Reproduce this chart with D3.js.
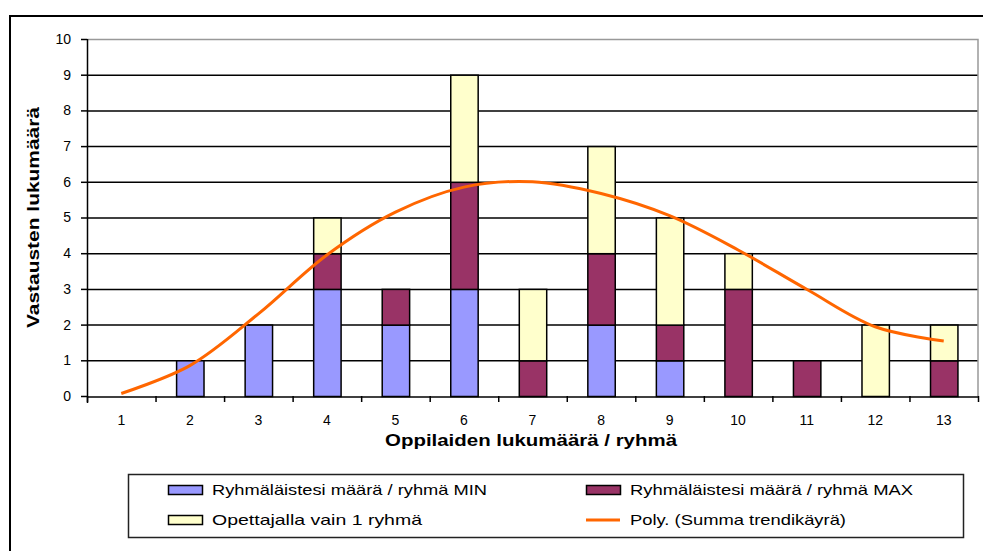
<!DOCTYPE html>
<html>
<head>
<meta charset="utf-8">
<script src="https://cdn.jsdelivr.net/npm/d3@7"></script>
<style>
  body { margin: 0; background: #fff; }
  svg { display: block; font-family: "Liberation Sans", Arial, sans-serif; }
</style>
</head>
<body>
<svg></svg>
<script>
const categories = ["1", "2", "3", "4", "5", "6", "7", "8", "9", "10", "11", "12", "13"];
const minValues = [0, 1, 2, 3, 2, 3, 0, 2, 1, 0, 0, 0, 0];
const maxValues = [0, 0, 0, 1, 1, 3, 1, 2, 1, 3, 1, 0, 1];
const oneGroupValues = [0, 0, 0, 1, 0, 3, 2, 3, 3, 1, 0, 2, 1];
const trendValues = [0.07, 0.85, 2.3, 3.95, 5.15, 5.85, 6.0, 5.67, 5.05, 4.09, 2.99, 1.94, 1.54];
const yTicks = [0, 1, 2, 3, 4, 5, 6, 7, 8, 9, 10];

const seriesNames = ["Ryhmäläistesi määrä / ryhmä MIN", "Ryhmäläistesi määrä / ryhmä MAX", "Opettajalla vain 1 ryhmä"];
const trendName = "Poly. (Summa trendikäyrä)";
const seriesColors = ["#9999FF", "#993366", "#FFFFCC"];
const trendColor = "#FF6600";

const width = 983, height = 551;
const plot = { left: 87, right: 978, top: 39, bottom: 396 };

const svg = d3.select("svg").attr("width", width).attr("height", height);

// outer chart frame
svg.append("path")
  .attr("d", `M10,${height + 2} L10,16 L${width + 2},16`)
  .attr("fill", "none").attr("stroke", "#000").attr("stroke-width", 2);

const x = d3.scaleBand().domain(categories).range([plot.left, plot.right]).paddingInner(0.6).paddingOuter(0.3);
const xOuter = d3.scaleBand().domain(categories).range([plot.left, plot.right]);
const y = d3.scaleLinear().domain([0, 10]).range([plot.bottom, plot.top]);

// gridlines
svg.append("g").selectAll("line")
  .data(yTicks.filter(t => t > 0 && t < 10))
  .join("line")
  .attr("x1", plot.left).attr("x2", plot.right)
  .attr("y1", d => y(d) + 0.5).attr("y2", d => y(d) + 0.5)
  .attr("stroke", "#000").attr("stroke-width", 1.5);

// plot border top/right (gray)
svg.append("path")
  .attr("d", `M${plot.left},${y(10) + 0.5} L${plot.right},${y(10) + 0.5} L${plot.right},${plot.bottom}`)
  .attr("fill", "none").attr("stroke", "#999").attr("stroke-width", 1.5);

// stacked bars
const rows = categories.map((c, i) => ({ cat: c, min: minValues[i], max: maxValues[i], one: oneGroupValues[i] }));
const stack = d3.stack().keys(["min", "max", "one"]);
const layers = stack(rows);

svg.append("g").selectAll("g")
  .data(layers)
  .join("g")
  .attr("fill", (d, i) => seriesColors[i])
  .selectAll("rect")
  .data(d => d)
  .join("rect")
  .attr("x", d => x(d.data.cat) + 0.5)
  .attr("y", d => y(d[1]) + 0.5)
  .attr("width", x.bandwidth())
  .attr("height", d => y(d[0]) - y(d[1]))
  .attr("stroke", "#000").attr("stroke-width", 1.5)
  .attr("display", d => {
    const total = d.data.min + d.data.max + d.data.one;
    return total === 0 ? "none" : null;
  });

// trend line
const line = d3.line()
  .x((d, i) => xOuter(categories[i]) + xOuter.bandwidth() / 2)
  .y(d => y(d))
  .curve(d3.curveCatmullRom.alpha(0.5));

svg.append("path")
  .datum(trendValues)
  .attr("d", line)
  .attr("fill", "none")
  .attr("stroke", trendColor)
  .attr("stroke-width", 3);

// y axis
const yAxis = svg.append("g")
  .attr("transform", `translate(${plot.left},0)`)
  .call(d3.axisLeft(y).tickValues(yTicks).tickSize(6).tickPadding(10).tickFormat(d3.format("d")));
yAxis.select(".domain").attr("stroke-width", 1.5).attr("d", `M0.5,${plot.top}V${plot.bottom + 7}`);
yAxis.selectAll(".tick line").attr("stroke-width", 1.5);
yAxis.selectAll("text").attr("font-size", 14).attr("fill", "#000")
  .attr("font-family", "Liberation Sans, Arial, sans-serif");

// x axis
const xAxis = svg.append("g")
  .attr("transform", `translate(0,${plot.bottom + 0.5})`)
  .call(d3.axisBottom(xOuter).tickSize(0).tickPadding(19));
xAxis.select(".domain").attr("stroke-width", 1.5);
xAxis.selectAll("text").attr("font-size", 14).attr("fill", "#000")
  .attr("font-family", "Liberation Sans, Arial, sans-serif");

// x ticks between categories
svg.append("g").selectAll("line")
  .data(d3.range(categories.length + 1))
  .join("line")
  .attr("x1", i => plot.left + i * xOuter.step() + 0.5)
  .attr("x2", i => plot.left + i * xOuter.step() + 0.5)
  .attr("y1", plot.bottom).attr("y2", plot.bottom + 6)
  .attr("stroke", "#000").attr("stroke-width", 1.5);

// axis titles
svg.append("text")
  .attr("x", 385).attr("y", 446)
  .attr("font-size", 16).attr("font-weight", "bold")
  .attr("textLength", 292).attr("lengthAdjust", "spacingAndGlyphs")
  .text("Oppilaiden lukumäärä / ryhmä");

svg.append("text")
  .attr("transform", `translate(39,328) rotate(-90)`)
  .attr("font-size", 16).attr("font-weight", "bold")
  .attr("textLength", 221).attr("lengthAdjust", "spacingAndGlyphs")
  .text("Vastausten lukumäärä");

// legend
const legend = svg.append("g");
legend.append("rect")
  .attr("x", 128.5).attr("y", 474.5).attr("width", 835).attr("height", 63)
  .attr("fill", "#fff").attr("stroke", "#222").attr("stroke-width", 1.5);

const legendItems = [
  { name: seriesNames[0], color: seriesColors[0], type: "box", x: 168, y: 490, len: 275 },
  { name: seriesNames[1], color: seriesColors[1], type: "box", x: 586, y: 490, len: 283 },
  { name: seriesNames[2], color: seriesColors[2], type: "box", x: 168, y: 520, len: 210 },
  { name: trendName, color: trendColor, type: "line", x: 586, y: 520, len: 216 }
];

const li = legend.selectAll("g.item").data(legendItems).join("g")
  .attr("transform", d => `translate(${d.x},${d.y})`);

li.filter(d => d.type === "box").append("rect")
  .attr("x", 0.5).attr("y", -4.5).attr("width", 34).attr("height", 9)
  .attr("fill", d => d.color).attr("stroke", "#000").attr("stroke-width", 1.5);

li.filter(d => d.type === "line").append("line")
  .attr("x1", 0).attr("x2", 34).attr("y1", 0).attr("y2", 0)
  .attr("stroke", d => d.color).attr("stroke-width", 3);

li.append("text")
  .attr("x", 44).attr("y", 0).attr("dy", "0.35em")
  .attr("font-size", 15)
  .attr("textLength", d => d.len).attr("lengthAdjust", "spacingAndGlyphs")
  .text(d => d.name);
</script>
</body>
</html>
